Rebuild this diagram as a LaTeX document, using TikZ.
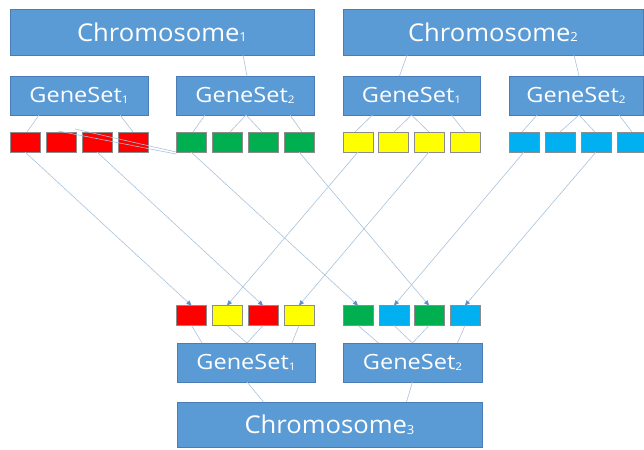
\documentclass[tikz,border=0pt]{standalone}
\usepackage{fontspec}
\usepackage{graphicx}
\setmainfont{Open Sans}
\usetikzlibrary{arrows.meta}
\definecolor{boxfill}{HTML}{5B9BD5}
\definecolor{boxline}{HTML}{4A7DB5}
\definecolor{conn}{HTML}{A9C2DC}
\definecolor{arrowc}{HTML}{5B8FC9}
\definecolor{gred}{HTML}{FF0000}
\definecolor{ggreen}{HTML}{00B050}
\definecolor{gyellow}{HTML}{FFFF00}
\definecolor{gblue}{HTML}{00B0F0}
\definecolor{sqline}{HTML}{8C8C8C}
\newcommand{\chromtext}[1]{\scalebox{1.045}[1]{\fontsize{24.5}{26}\selectfont Chromosome\raisebox{-0.5pt}{\fontsize{12.5}{13}\selectfont #1}}}
\newcommand{\gstext}[1]{\scalebox{1.12}[1]{\fontsize{21}{22}\selectfont GeneSet\raisebox{-0.5pt}{\fontsize{10.5}{11}\selectfont #1}}}
\begin{document}
\begin{tikzpicture}[x=1pt,y=-1pt,
  bluebox/.style={draw=boxline,line width=0.8pt,fill=boxfill,text=white,inner sep=0pt,outer sep=0pt},
  chrom/.style={bluebox,minimum height=46pt},
  geneset/.style={bluebox,minimum height=39pt,minimum width=138pt},
  gene/.style={draw=sqline,line width=0.6pt,minimum width=30pt,minimum height=20pt,inner sep=0pt,outer sep=0pt},
  link/.style={draw=conn,line width=0.6pt},
  cross/.style={draw=conn,line width=0.6pt,-{Triangle[length=5pt,width=4.5pt,color=arrowc]}}
]
\useasboundingbox (0,0) rectangle (644,449);
\begin{scope}
\clip (0,0) rectangle (644,449);
% chromosomes
\node[chrom,minimum width=304pt] (c1) at (162,32) {\chromtext{1}};
\node[chrom,minimum width=300pt] (c2) at (493,32) {\chromtext{2}};
\node[chrom,minimum width=305pt,minimum height=45pt] (c3) at (329.5,424.5) {\chromtext{3}};
% gene sets
\node[geneset] (sa) at (79,95.5) {\gstext{1}};
\node[geneset] (sb) at (245,95.5) {\gstext{2}};
\node[geneset,minimum width=137pt] (sc) at (411.5,95.5) {\gstext{1}};
\node[geneset,minimum width=134pt] (sd) at (576,95.5) {\gstext{2}};
\node[geneset] (se) at (246,362.5) {\gstext{1}};
\node[geneset,minimum width=139pt] (sf) at (412.5,362.5) {\gstext{2}};
% top genes
\node[gene,fill=gred] (r1) at (25,142) {};
\node[gene,fill=gred] (r2) at (61,142) {};
\node[gene,fill=gred] (r3) at (97,142) {};
\node[gene,fill=gred] (r4) at (133,142) {};
\node[gene,fill=ggreen] (g1) at (191,142) {};
\node[gene,fill=ggreen] (g2) at (227,142) {};
\node[gene,fill=ggreen] (g3) at (263,142) {};
\node[gene,fill=ggreen] (g4) at (299,142) {};
\node[gene,fill=gyellow] (y1) at (358,142) {};
\node[gene,fill=gyellow] (y2) at (393,142) {};
\node[gene,fill=gyellow] (y3) at (429,142) {};
\node[gene,fill=gyellow] (y4) at (465,142) {};
\node[gene,fill=gblue] (b1) at (524,142) {};
\node[gene,fill=gblue] (b2) at (560,142) {};
\node[gene,fill=gblue] (b3) at (596,142) {};
\node[gene,fill=gblue] (b4) at (632,142) {};
% bottom genes
\node[gene,fill=gred] (br1) at (191.5,315.5) {};
\node[gene,fill=gyellow] (by1) at (227,315.5) {};
\node[gene,fill=gred] (br2) at (263,315.5) {};
\node[gene,fill=gyellow] (by2) at (299,315.5) {};
\node[gene,fill=ggreen] (bg1) at (358,315.5) {};
\node[gene,fill=gblue] (bb1) at (394,315.5) {};
\node[gene,fill=ggreen] (bg2) at (429,315.5) {};
\node[gene,fill=gblue] (bb2) at (465,315.5) {};
% chromosome -> gene set links
\draw[link] ([xshift=81pt]c1.south) -- ([xshift=2pt]sb.north);
\draw[link] ([xshift=-86pt]c2.south) -- ([xshift=-12pt]sc.north);
\draw[link] ([xshift=81pt]c2.south) -- ([xshift=3pt]sd.north);
% gene set -> gene links (top)
\draw[link] ([xshift=-40pt]sa.south) -- ([xshift=2pt]r1.north);
\draw[link] ([xshift=41pt]sa.south) -- (r4.north);
\draw[link] ([xshift=-40pt]sb.south) -- ([xshift=2pt]g1.north);
\draw[link] ([xshift=1pt]sb.south) -- ([xshift=3pt]g2.north);
\draw[link] ([xshift=1pt]sb.south) -- ([xshift=-1pt]g3.north);
\draw[link] ([xshift=45pt]sb.south) -- ([xshift=3pt]g4.north);
\draw[link] ([xshift=-39pt]sc.south) -- ([xshift=-3pt]y1.north);
\draw[link] (sc.south) -- ([xshift=1pt]y2.north);
\draw[link] (sc.south) -- (y3.north);
\draw[link] ([xshift=40pt]sc.south) -- (y4.north);
\draw[link] ([xshift=-39pt]sd.south) -- ([xshift=-2pt]b1.north);
\draw[link] ([xshift=3pt]sd.south) -- (b2.north);
\draw[link] ([xshift=3pt]sd.south) -- ([xshift=-1pt]b3.north);
\draw[link] ([xshift=43pt]sd.south) -- (b4.north);
% stray links from red gene 2 to green gene 1
\draw[link] ([xshift=-3pt,yshift=1pt]r2.north) -- ([yshift=-2pt]g1.south west);
\draw[link] ([xshift=14pt,yshift=3pt]r2.north) -- ([yshift=0pt]g1.south west);
% crossover arrows
\draw[cross] (r1.south) -- (br1.north);
\draw[cross] (r3.south) -- (br2.north);
\draw[cross] (g1.south) -- (bg1.north);
\draw[cross] (g4.south) -- (bg2.north);
\draw[cross] (y1.south) -- (by1.north);
\draw[cross] (y3.south) -- (by2.north);
\draw[cross] (b1.south) -- (bb1.north);
\draw[cross] (b3.south) -- (bb2.north);
% bottom genes -> gene sets
\draw[link] (br1.south) -- ([xshift=-44pt]se.north);
\draw[link] (by1.south) -- ([xshift=1pt]se.north);
\draw[link] (br2.south) -- ([xshift=1pt]se.north);
\draw[link] (by2.south) -- ([xshift=46pt]se.north);
\draw[link] (bg1.south) -- ([xshift=-34pt]sf.north);
\draw[link] (bb1.south) -- (sf.north);
\draw[link] (bg2.south) -- (sf.north);
\draw[link] (bb2.south) -- ([xshift=45pt]sf.north);
% gene sets -> chromosome 3
\draw[link] ([xshift=1pt]se.south) -- ([xshift=-66pt]c3.north);
\draw[link] (sf.south) -- ([xshift=77pt]c3.north);
\end{scope}
\end{tikzpicture}
\end{document}
